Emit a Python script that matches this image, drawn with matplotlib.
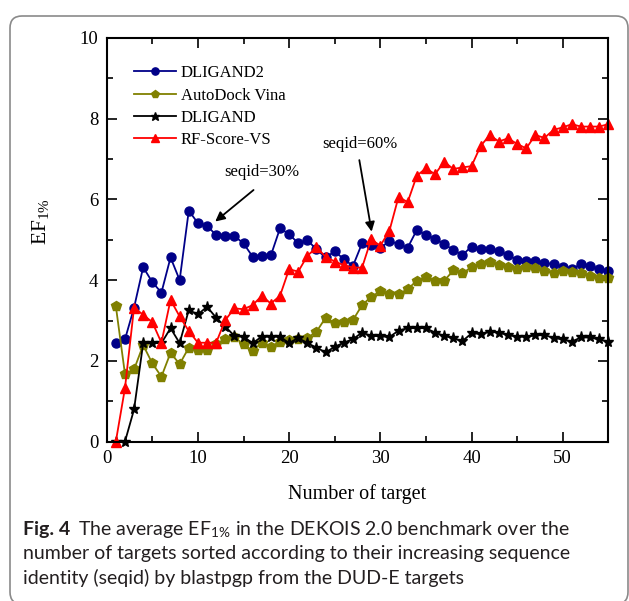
import matplotlib.pyplot as plt
import numpy as np
from matplotlib.patches import FancyBboxPatch
from matplotlib.transforms import IdentityTransform
from matplotlib.ticker import MultipleLocator

# number of targets on x, EF1% on y
targets = np.arange(1, 56)

dligand2 = [2.44, 2.53, 3.32, 4.32, 3.95, 3.69, 4.56, 4.00, 5.72, 5.41,
            5.35, 5.11, 5.09, 5.09, 4.91, 4.58, 4.60, 4.61, 5.28, 5.14,
            4.91, 4.99, 4.76, 4.56, 4.71, 4.52, 4.35, 4.91, 4.88, 4.79,
            4.97, 4.89, 4.80, 5.24, 5.12, 5.02, 4.89, 4.75, 4.62, 4.83,
            4.77, 4.77, 4.72, 4.62, 4.50, 4.48, 4.48, 4.43, 4.39, 4.32,
            4.28, 4.39, 4.36, 4.27, 4.22]

vina = [3.36, 1.68, 1.79, 2.39, 1.94, 1.61, 2.20, 1.92, 2.33, 2.27,
        2.27, 2.41, 2.55, 2.58, 2.42, 2.25, 2.45, 2.35, 2.48, 2.52,
        2.55, 2.57, 2.72, 3.07, 2.93, 2.97, 3.01, 3.38, 3.59, 3.72,
        3.66, 3.66, 3.77, 3.99, 4.08, 3.99, 3.98, 4.24, 4.17, 4.32,
        4.40, 4.44, 4.37, 4.32, 4.28, 4.32, 4.31, 4.22, 4.17, 4.22,
        4.20, 4.18, 4.10, 4.06, 4.06]

dligand = [0.0, 0.0, 0.80, 2.44, 2.44, 2.44, 2.81, 2.44, 3.26, 3.15,
           3.34, 3.07, 2.85, 2.62, 2.60, 2.44, 2.60, 2.60, 2.60, 2.44,
           2.57, 2.44, 2.33, 2.21, 2.35, 2.45, 2.54, 2.70, 2.62, 2.61,
           2.59, 2.75, 2.81, 2.81, 2.81, 2.70, 2.62, 2.56, 2.49, 2.68,
           2.67, 2.72, 2.70, 2.64, 2.60, 2.60, 2.63, 2.64, 2.57, 2.53,
           2.48, 2.58, 2.58, 2.53, 2.48]

rf_score = [0.0, 1.32, 3.32, 3.14, 2.96, 2.45, 3.51, 3.10, 2.74, 2.45,
            2.45, 2.45, 3.01, 3.30, 3.28, 3.38, 3.61, 3.42, 3.61, 4.27,
            4.21, 4.60, 4.81, 4.58, 4.46, 4.37, 4.31, 4.31, 5.01, 4.85,
            5.22, 6.06, 5.93, 6.58, 6.77, 6.62, 6.93, 6.75, 6.79, 6.82,
            7.32, 7.59, 7.43, 7.51, 7.37, 7.26, 7.59, 7.52, 7.72, 7.78,
            7.86, 7.80, 7.80, 7.80, 7.86]

plt.rcParams['font.family'] = 'Liberation Serif'
plt.rcParams['mathtext.fontset'] = 'stix'

W, H = 629, 601
fig = plt.figure(figsize=(W / 100, H / 100), dpi=100)

# rounded frame around figure + caption
frame = FancyBboxPatch((10, -3), 618, 588, boxstyle='round,pad=0,rounding_size=12',
                       transform=IdentityTransform(), fill=False, ec='#8a8a8a', lw=1.2)
fig.patches.append(frame)

ax = fig.add_axes([106.7 / W, 1 - 441.7 / H, 501.6 / W, 404 / H])

ax.plot(targets, dligand2, color='#000088', marker='o', ms=6.5, lw=1.3, label='DLIGAND2', clip_on=False)
ax.plot(targets, vina, color='#808000', marker='p', ms=7.5, lw=1.3, label='AutoDock Vina', clip_on=False)
ax.plot(targets, dligand, color='black', marker='*', ms=8, lw=1.3, label='DLIGAND', clip_on=False)
ax.plot(targets, rf_score, color='red', marker='^', ms=7, lw=1.3, label='RF-Score-VS', clip_on=False)

ax.set_xlim(0, 55)
ax.set_ylim(0, 10)
ax.xaxis.set_major_locator(MultipleLocator(10))
ax.xaxis.set_minor_locator(MultipleLocator(5))
ax.yaxis.set_major_locator(MultipleLocator(2))
ax.yaxis.set_minor_locator(MultipleLocator(1))
ax.tick_params(which='both', direction='in', top=True, right=True, width=1.2)
ax.tick_params(which='major', length=7, labelsize=13.5, pad=6)
ax.tick_params(which='minor', length=4)
for s in ax.spines.values():
    s.set_linewidth(1.5)

ax.set_xlabel('Number of target', fontsize=14.5)
ax.xaxis.set_label_coords(0.5, -0.105)
ax.set_ylabel(r'EF$_{\mathregular{1\%}}$', fontsize=15.5)
ax.yaxis.set_label_coords(-0.112, 0.546)

leg = ax.legend(loc='upper left', bbox_to_anchor=(0.055, 0.932), frameon=False, fontsize=12,
                handlelength=2.5, handletextpad=0.3, labelspacing=0.38, markerscale=0.8,
                borderpad=0, borderaxespad=0)

# seqid annotations
ax.annotate('', xy=(11.9, 5.45), xytext=(16.1, 6.23),
            arrowprops=dict(arrowstyle='-|>', color='black', lw=1.3, mutation_scale=14,
                            shrinkA=0, shrinkB=0))
ax.text(17.0, 6.68, 'seqid=30%', fontsize=12, ha='center', va='center')
ax.annotate('', xy=(29.05, 5.2), xytext=(27.7, 6.97),
            arrowprops=dict(arrowstyle='-|>', color='black', lw=1.3, mutation_scale=14,
                            shrinkA=0, shrinkB=0))
ax.text(27.8, 7.37, 'seqid=60%', fontsize=12, ha='center', va='center')

# caption
cap_font = 'Lato'
cap_size = 14
cap_color = '#231f20'


def px(x, y):
    return x / W, 1 - y / H


fig_lbl = fig.text(*px(23, 529), 'Fig. 4', family=cap_font, fontsize=cap_size,
                   weight='bold', color=cap_color, va='center', ha='left')
fig.canvas.draw()
bb = fig_lbl.get_window_extent()
fig.text(*px(bb.x1 + 8, 529),
         r'The average EF$_{\mathregular{1\%}}$ in the DEKOIS 2.0 benchmark over the',
         family=cap_font, fontsize=cap_size, color=cap_color, va='center', ha='left')
fig.text(*px(23, 553.5), 'number of targets sorted according to their increasing sequence',
         family=cap_font, fontsize=cap_size, color=cap_color, va='center', ha='left')
fig.text(*px(23, 578), 'identity (seqid) by blastpgp from the DUD-E targets',
         family=cap_font, fontsize=cap_size, color=cap_color, va='center', ha='left')

fig.savefig('out.png', dpi=100)
